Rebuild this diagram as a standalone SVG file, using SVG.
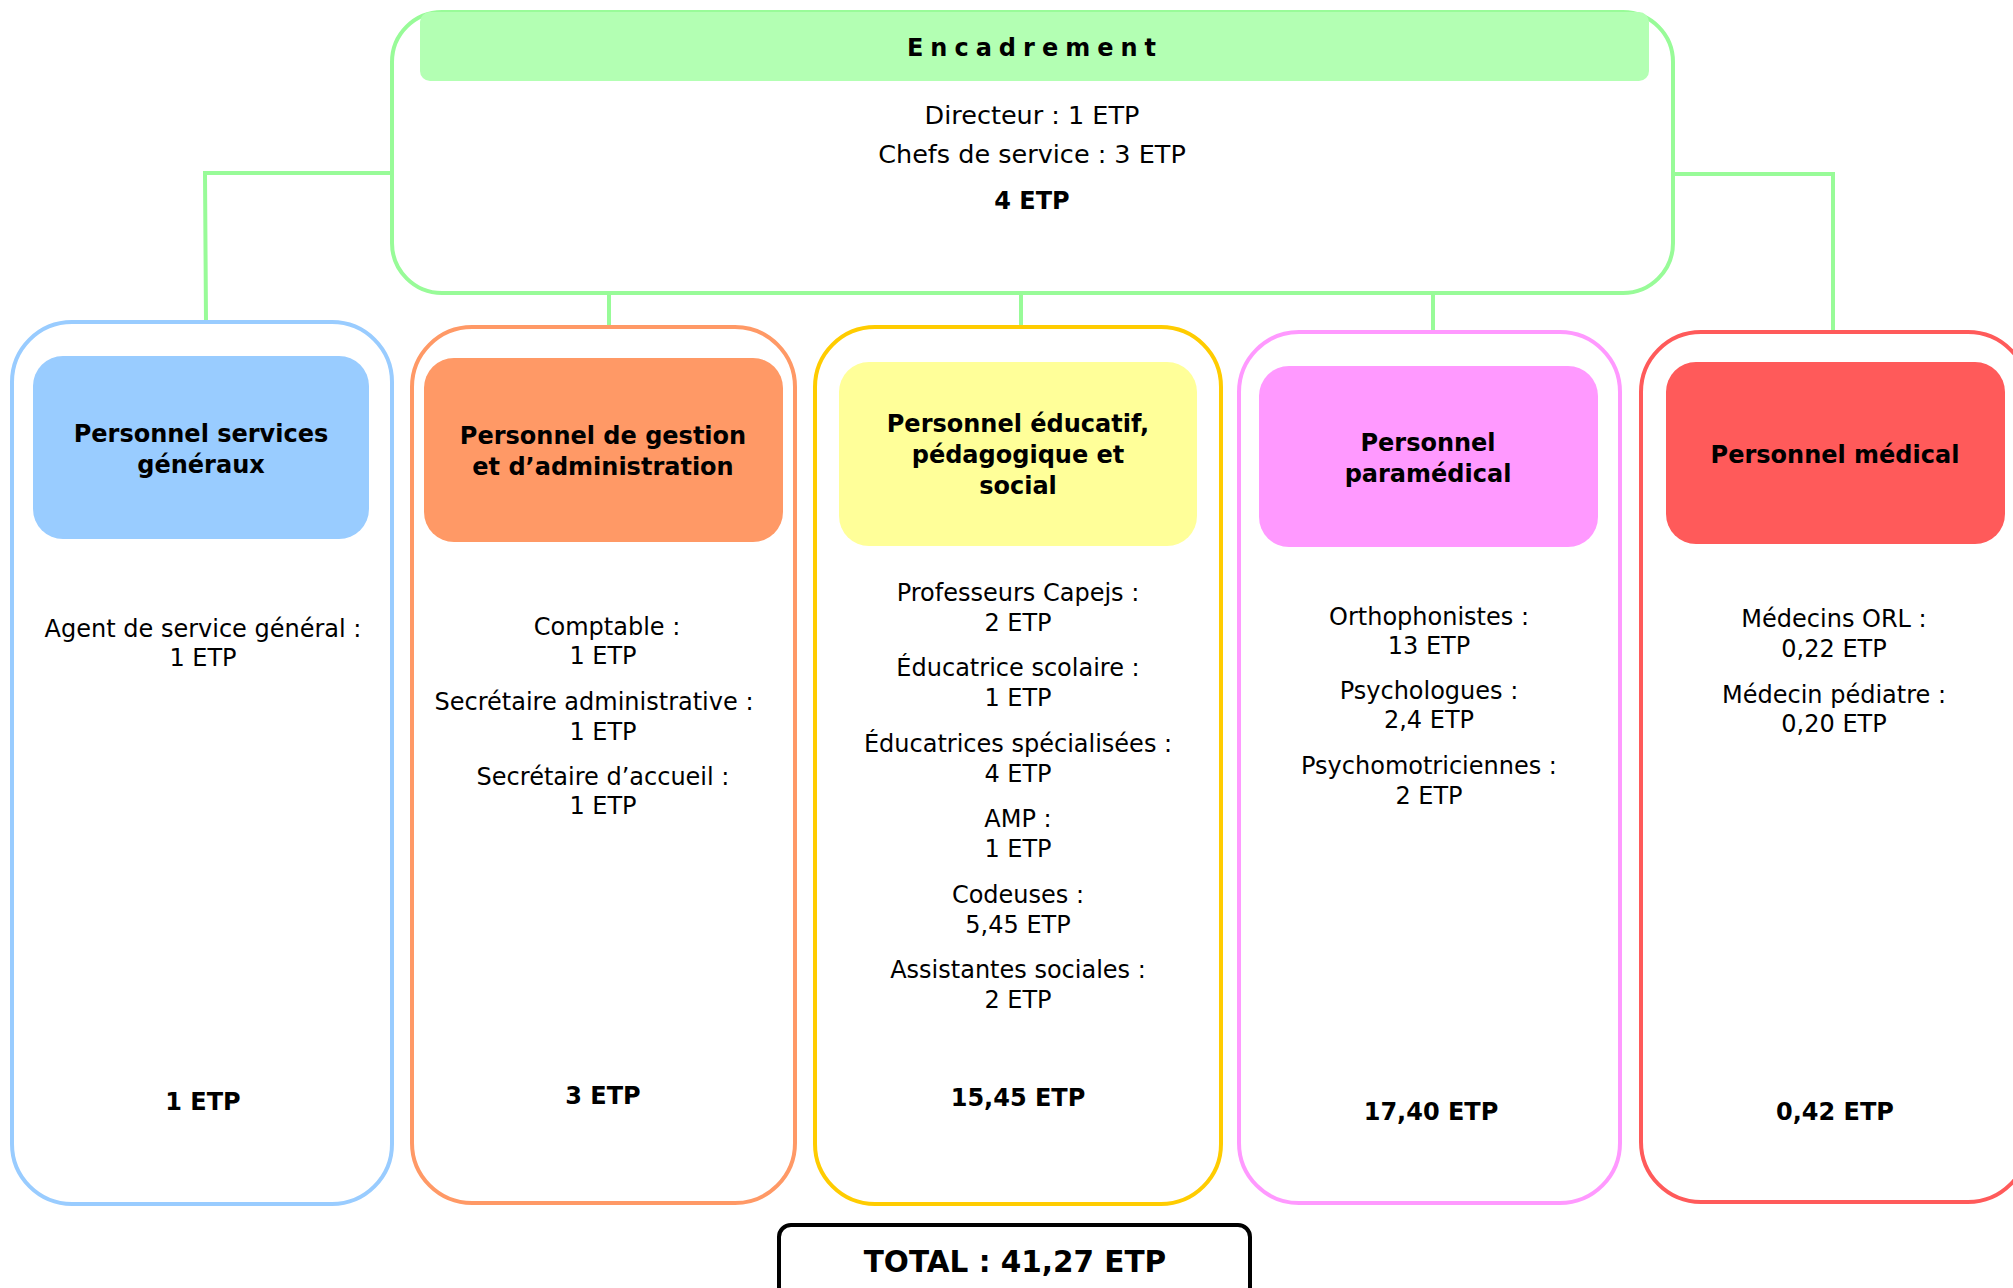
<svg xmlns="http://www.w3.org/2000/svg" width="2013" height="1288" viewBox="0 0 2013 1288">
<style>
text{font-family:"DejaVu Sans","Verdana",sans-serif;fill:#000;text-anchor:middle}
.t{font-size:24px}
.tt{font-size:25.5px}
.b{font-size:24px;font-weight:bold}
.card{fill:#fff;stroke-width:4}
.conn{fill:none;stroke:#98fb98;stroke-width:4}
</style>
<rect width="2013" height="1288" fill="#fff"/>
<g id="connectors">
<polyline class="conn" points="392,173 205,173 206,322"/>
<polyline class="conn" points="1673,174 1833,174 1833,332"/>
<line class="conn" x1="609" y1="293" x2="609" y2="327"/>
<line class="conn" x1="1021" y1="293" x2="1021" y2="327"/>
<line class="conn" x1="1433" y1="293" x2="1433" y2="332"/>
</g>
<g id="encadrement">
<rect x="392" y="12" width="1281" height="281" rx="50" fill="#fff" stroke="#98fb98" stroke-width="4"/>
<rect x="420" y="12" width="1229" height="69" rx="10" fill="#b3ffb3"/>
<text x="1035" y="56" font-size="24px" font-weight="bold" letter-spacing="7">Encadrement</text>
<text class="tt" x="1032" y="124">Directeur : 1 ETP</text>
<text class="tt" x="1032" y="163">Chefs de service : 3 ETP</text>
<text class="b" x="1032" y="209">4 ETP</text>
</g>
<g id="services-generaux">
<rect class="card" x="12" y="322" width="380" height="882" rx="60" stroke="#99ccff"/>
<rect x="33" y="356" width="336" height="183" rx="30" fill="#99ccff"/>
<text class="b" x="201" y="442">Personnel services</text>
<text class="b" x="201" y="473">généraux</text>
<text class="t" x="203" y="637">Agent de service général :</text>
<text class="t" x="203" y="666">1 ETP</text>
<text class="b" x="203" y="1110">1 ETP</text>
</g>
<g id="gestion-administration">
<rect class="card" x="412" y="327" width="383" height="876" rx="60" stroke="#ff9966"/>
<rect x="424" y="358" width="359" height="184" rx="30" fill="#ff9966"/>
<text class="b" x="603" y="444">Personnel de gestion</text>
<text class="b" x="603" y="475">et d’administration</text>
<text class="t" x="607" y="635">Comptable :</text>
<text class="t" x="603" y="664">1 ETP</text>
<text class="t" x="594" y="710">Secrétaire administrative :</text>
<text class="t" x="603" y="740">1 ETP</text>
<text class="t" x="603" y="785">Secrétaire d’accueil :</text>
<text class="t" x="603" y="814">1 ETP</text>
<text class="b" x="603" y="1104">3 ETP</text>
</g>
<g id="educatif">
<rect class="card" x="815" y="327" width="406" height="877" rx="60" stroke="#ffcc00"/>
<rect x="839" y="362" width="358" height="184" rx="30" fill="#ffff99"/>
<text class="b" x="1018" y="432">Personnel éducatif,</text>
<text class="b" x="1018" y="463">pédagogique et</text>
<text class="b" x="1018" y="494">social</text>
<text class="t" x="1018" y="601">Professeurs Capejs :</text>
<text class="t" x="1018" y="631">2 ETP</text>
<text class="t" x="1018" y="676">Éducatrice scolaire :</text>
<text class="t" x="1018" y="706">1 ETP</text>
<text class="t" x="1018" y="752">Éducatrices spécialisées :</text>
<text class="t" x="1018" y="782">4 ETP</text>
<text class="t" x="1018" y="827">AMP :</text>
<text class="t" x="1018" y="857">1 ETP</text>
<text class="t" x="1018" y="903">Codeuses :</text>
<text class="t" x="1018" y="933">5,45 ETP</text>
<text class="t" x="1018" y="978">Assistantes sociales :</text>
<text class="t" x="1018" y="1008">2 ETP</text>
<text class="b" x="1018" y="1106">15,45 ETP</text>
</g>
<g id="paramedical">
<rect class="card" x="1239" y="332" width="381" height="871" rx="60" stroke="#ff99ff"/>
<rect x="1259" y="366" width="339" height="181" rx="30" fill="#ff99ff"/>
<text class="b" x="1428" y="451">Personnel</text>
<text class="b" x="1428" y="482">paramédical</text>
<text class="t" x="1429" y="625">Orthophonistes :</text>
<text class="t" x="1429" y="654">13 ETP</text>
<text class="t" x="1429" y="699">Psychologues :</text>
<text class="t" x="1429" y="728">2,4 ETP</text>
<text class="t" x="1429" y="774">Psychomotriciennes :</text>
<text class="t" x="1429" y="804">2 ETP</text>
<text class="b" x="1431" y="1120">17,40 ETP</text>
</g>
<g id="medical">
<rect class="card" x="1641" y="332" width="387" height="870" rx="60" stroke="#ff5a5a"/>
<rect x="1666" y="362" width="339" height="182" rx="30" fill="#ff5a5a"/>
<text class="b" x="1835" y="463">Personnel médical</text>
<text class="t" x="1834" y="627">Médecins ORL :</text>
<text class="t" x="1834" y="657">0,22 ETP</text>
<text class="t" x="1834" y="703">Médecin pédiatre :</text>
<text class="t" x="1834" y="732">0,20 ETP</text>
<text class="b" x="1835" y="1120">0,42 ETP</text>
</g>
<g id="total">
<rect x="779" y="1225" width="471" height="80" rx="12" fill="#fff" stroke="#000" stroke-width="4"/>
<text x="1015" y="1272" font-size="29.5px" font-weight="bold">TOTAL : 41,27 ETP</text>
</g>
</svg>
